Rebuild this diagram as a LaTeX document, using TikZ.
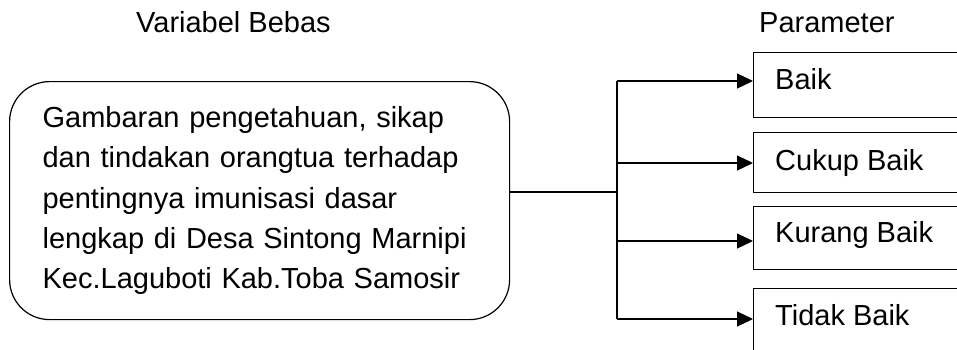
\documentclass[tikz,border=0pt]{standalone}
\usepackage{fontspec}
\setmainfont{Liberation Sans}
\usetikzlibrary{arrows.meta}

\begin{document}
\begin{tikzpicture}[x=1pt, y=-1pt,
  every node/.style={font=\fontsize{29}{40.4}\selectfont},
  line/.style={line width=1.2pt},
  arr/.style={line, -{Triangle[length=16pt, width=15pt]}},
  parambox/.style={draw, line width=1.2pt, anchor=north west, minimum width=230pt, inner sep=0pt},
  lbl/.style={anchor=base west, inner sep=0pt},
  title/.style={anchor=base west, inner sep=0pt}]
  \useasboundingbox (0,0) rectangle (957,349);

  % column headings
  \node[title] (hv) at (136,32) {Variabel Bebas};
  \node[title] (hp) at (759,32) {Parameter};

  % independent variable
  \node[draw, line width=1.2pt, rounded corners=40pt, anchor=north west,
        minimum width=500pt, minimum height=238pt, text width=434pt,
        inner xsep=33pt, inner ysep=0pt, align=left] (src) at (9,81)
    {Gambaran pengetahuan, sikap\\
     dan tindakan orangtua terhadap\\
     pentingnya imunisasi dasar\\
     lengkap di Desa Sintong Marnipi\\
     Kec.Laguboti Kab.Toba Samosir};

  % parameter boxes (running past the right edge)
  \node[parambox, minimum height=65pt] (b1) at (753,52) {};
  \node[parambox, minimum height=60pt] (b2) at (753,132) {};
  \node[parambox, minimum height=63pt] (b3) at (753,206) {};
  \node[parambox, minimum height=80pt] (b4) at (753,288) {};

  \node[lbl] (t1) at (775,89) {Baik};
  \node[lbl] (t2) at (775,170) {Cukup Baik};
  \node[lbl] (t3) at (775,242) {Kurang Baik};
  \node[lbl] (t4) at (775,325) {Tidak Baik};

  % branching connector
  \coordinate (j) at (617,192);
  \coordinate (k1) at (617,81);
  \coordinate (k2) at (617,163);
  \coordinate (k3) at (617,241);
  \coordinate (k4) at (617,319);

  \draw[line] (src.east |- j) -- (j);
  \draw[line] (k1) -- (k4);
  \draw[arr] (k1) -- (k1 -| b1.west);
  \draw[arr] (k2) -- (k2 -| b2.west);
  \draw[arr] (k3) -- (k3 -| b3.west);
  \draw[arr] (k4) -- (k4 -| b4.west);
\end{tikzpicture}
\end{document}
